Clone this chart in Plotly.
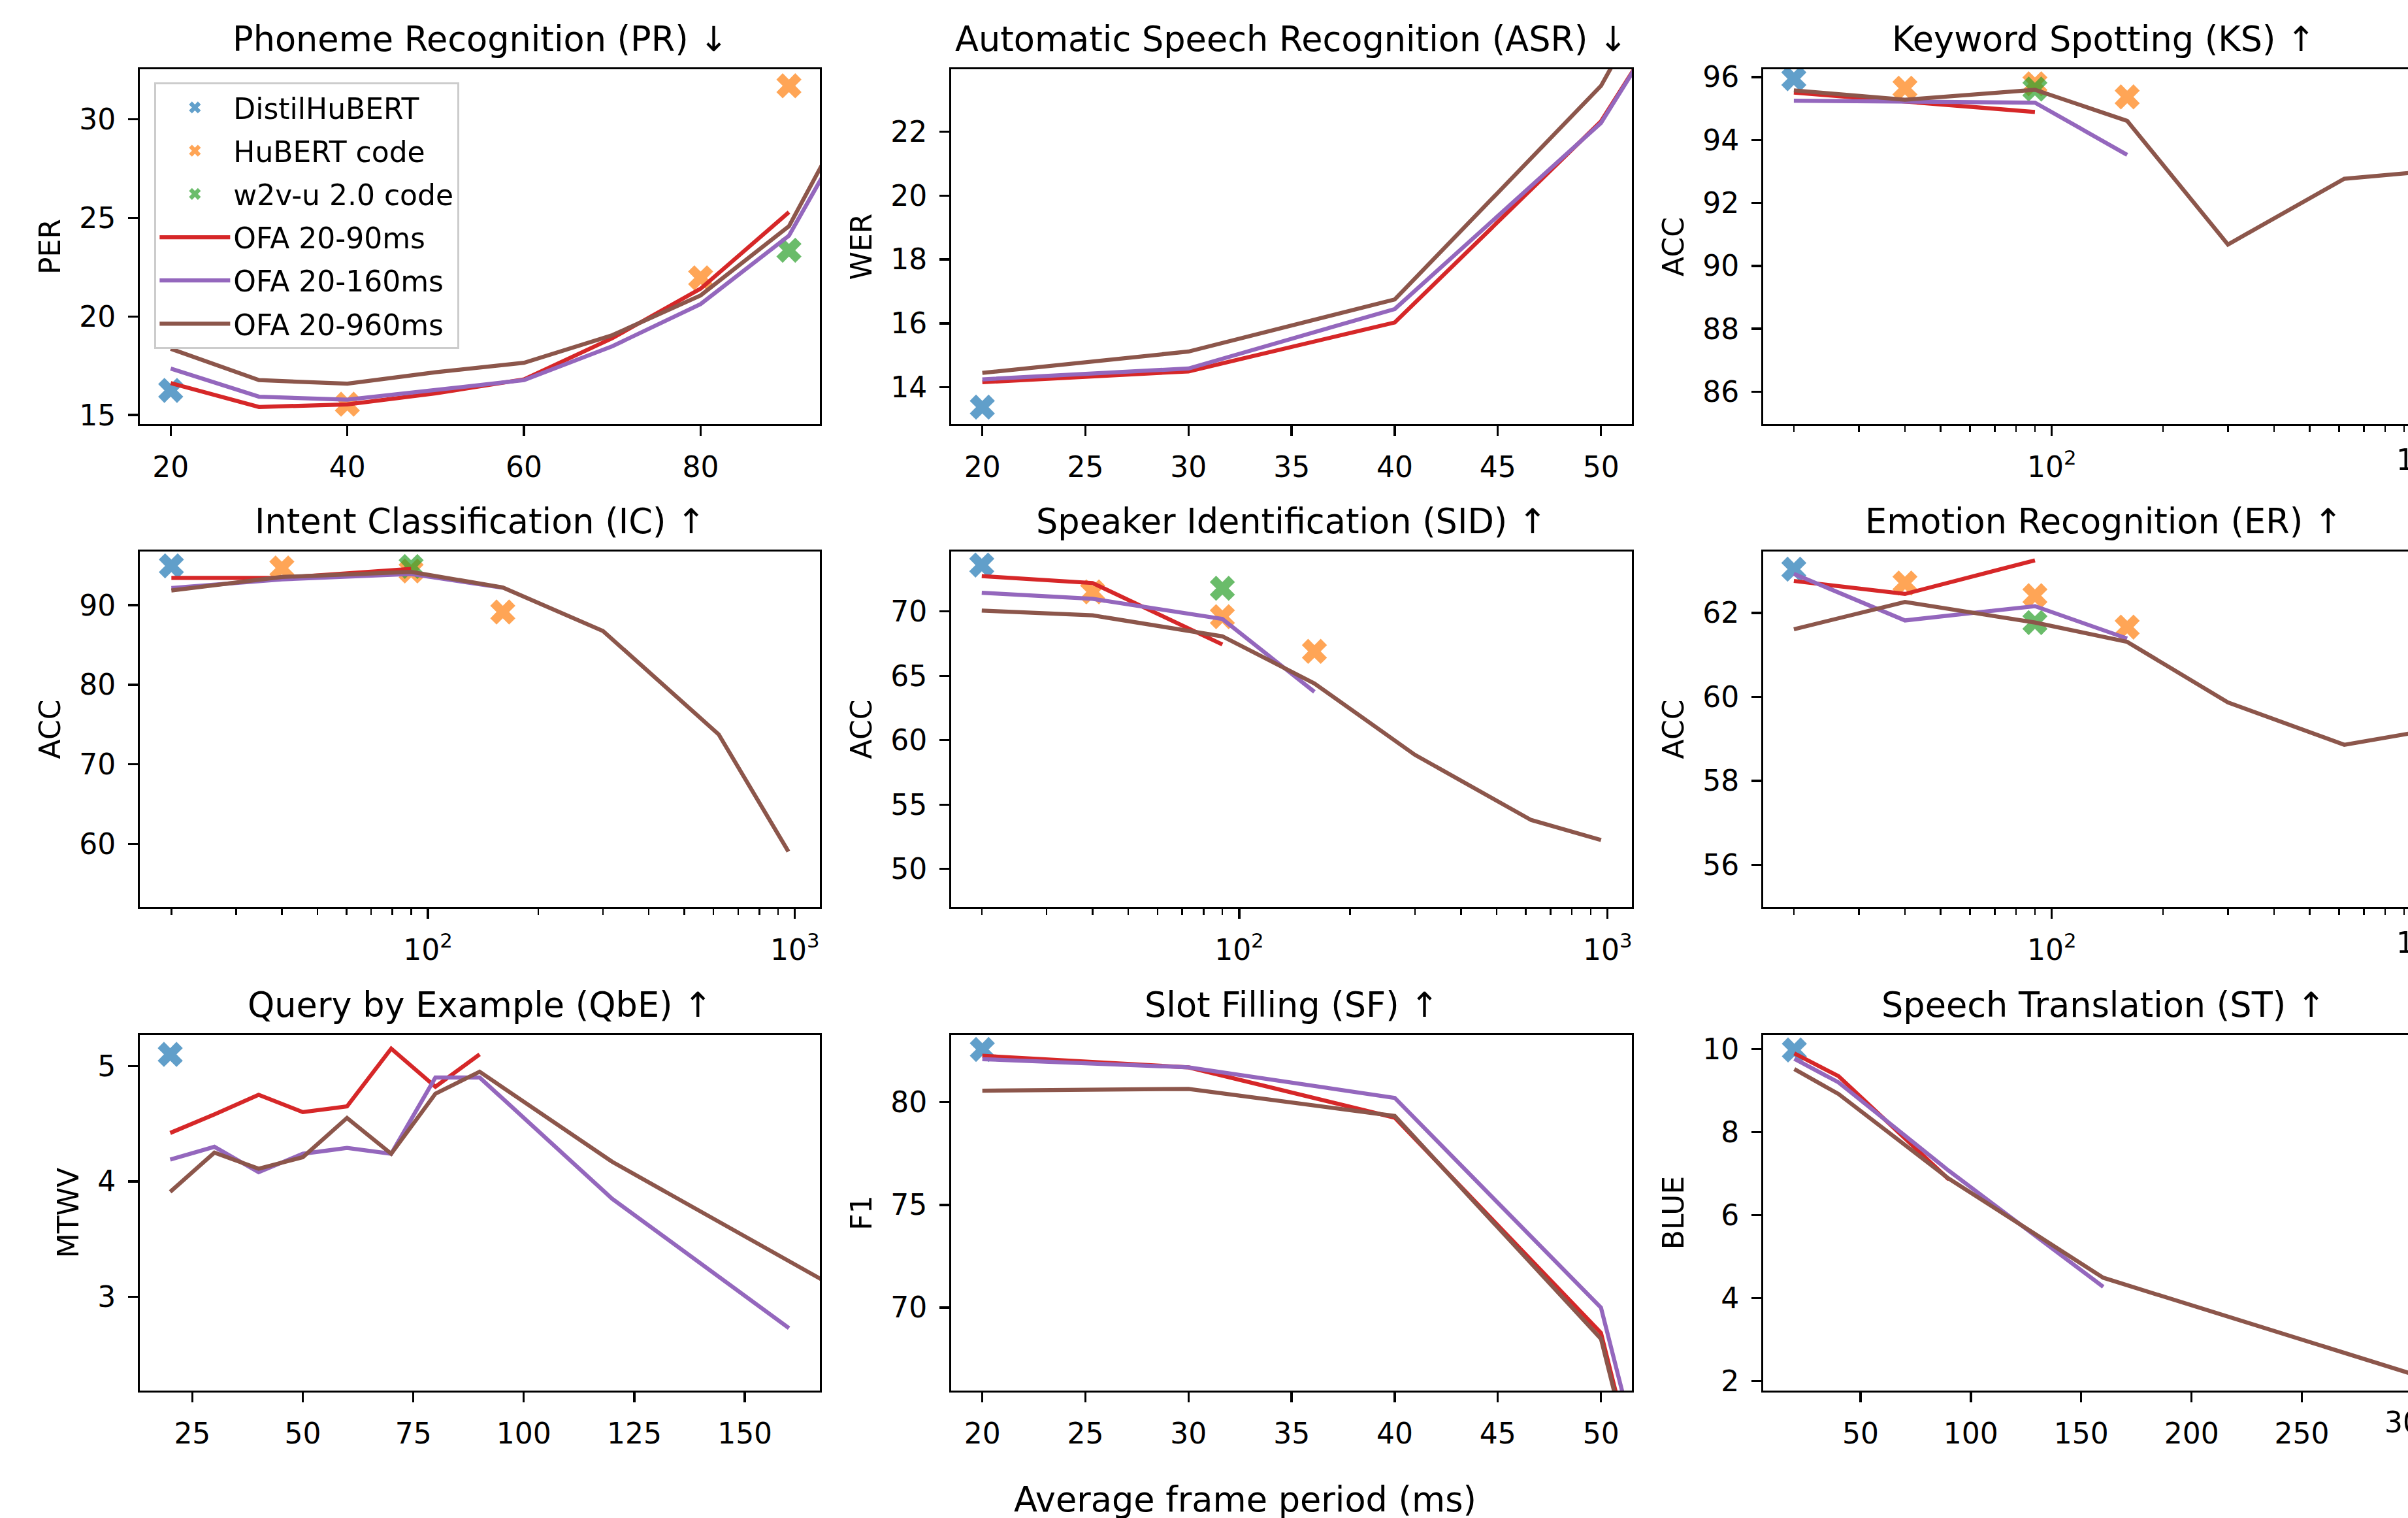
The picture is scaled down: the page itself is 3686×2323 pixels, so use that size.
import math
import plotly.graph_objects as go

# ------------------------------------------------------------------ data
SERIES = ["DistilHuBERT", "HuBERT code", "w2v-u 2.0 code",
          "OFA 20-90ms", "OFA 20-160ms", "OFA 20-960ms"]

# Phoneme Recognition (PR)  - PER
PR_X90 = [20, 30, 40, 50, 60, 70, 80, 90]
PR_OFA90 = [16.62, 15.41, 15.54, 16.10, 16.81, 18.90, 21.41, 25.29]
PR_X160 = [20, 30, 40, 50, 60, 70, 80, 90, 100]
PR_OFA160 = [17.36, 15.93, 15.78, 16.25, 16.77, 18.49, 20.63, 24.10, 32.0]
PR_X960 = [20, 30, 40, 50, 60, 70, 80, 90, 100]
PR_OFA960 = [18.36, 16.77, 16.59, 17.17, 17.65, 19.05, 21.07, 24.58, 32.9]
PR_DISTIL_X, PR_DISTIL = [20], [16.25]
PR_HUBERT_X, PR_HUBERT = [40, 80, 90], [15.55, 21.96, 31.70]
PR_W2V_X, PR_W2V = [90], [23.36]

# Automatic Speech Recognition (ASR) - WER
ASR_X = [20, 30, 40, 50, 60]
ASR_OFA90 = [14.16, 14.50, 16.03, 22.32, 32.5]
ASR_OFA160 = [14.25, 14.59, 16.45, 22.27, 32.6]
ASR_OFA960 = [14.45, 15.12, 16.75, 23.43, 35.0]
ASR_DISTIL_X, ASR_DISTIL = [20], [13.38]

# shared frame periods for the log-scale tasks
LOG_X90 = [20, 40, 90]
LOG_X160 = [20, 40, 90, 160]
LOG_X960 = [20, 40, 90, 160, 300, 620, 960]
LOG_HUBERT_X = [40, 90, 160]

# Keyword Spotting (KS) - ACC
KS_OFA90 = [95.51, 95.22, 94.89]
KS_OFA160 = [95.25, 95.21, 95.19, 93.53]
KS_OFA960 = [95.58, 95.28, 95.60, 94.61, 90.68, 92.77, 92.97]
KS_DISTIL = [95.95]
KS_HUBERT = [95.65, 95.79, 95.37]
KS_W2V = [95.62]

# Intent Classification (IC) - ACC
IC_OFA90 = [93.43, 93.43, 94.57]
IC_OFA160 = [92.15, 93.25, 93.93, 92.20]
IC_OFA960 = [91.85, 93.55, 94.19, 92.23, 86.76, 73.75, 59.02]
IC_DISTIL = [94.95]
IC_HUBERT = [94.68, 94.30, 89.14]
IC_W2V = [94.87]

# Speaker Identification (SID) - ACC
SID_OFA90 = [72.75, 72.21, 67.44]
SID_OFA160 = [71.45, 70.98, 69.42, 63.76]
SID_OFA960 = [70.07, 69.70, 68.07, 64.41, 58.86, 53.80, 52.24]
SID_DISTIL = [73.61]
SID_HUBERT = [71.52, 69.60, 66.90]
SID_W2V = [71.80]

# Emotion Recognition (ER) - ACC
ER_OFA90 = [62.76, 62.45, 63.25]
ER_OFA160 = [62.93, 61.82, 62.16, 61.39]
ER_OFA960 = [61.61, 62.26, 61.77, 61.31, 59.87, 58.86, 59.15]
ER_DISTIL = [63.04]
ER_HUBERT = [62.71, 62.41, 61.66]
ER_W2V = [61.77]

# Query by Example (QbE) - MTWV
QBE_X90 = [20, 30, 40, 50, 60, 70, 80, 90]
QBE_OFA90 = [4.42, 4.58, 4.75, 4.60, 4.65, 5.15, 4.82, 5.10]
QBE_X160 = [20, 30, 40, 50, 60, 70, 80, 90, 120, 160]
QBE_OFA160 = [4.19, 4.30, 4.08, 4.24, 4.29, 4.24, 4.90, 4.90, 3.85, 2.73]
QBE_X960 = [20, 30, 40, 50, 60, 70, 80, 90, 120, 160, 300]
QBE_OFA960 = [3.91, 4.25, 4.11, 4.21, 4.55, 4.24, 4.76, 4.95, 4.17, 3.29, 0.30]
QBE_DISTIL_X, QBE_DISTIL = [20], [5.10]

# Slot Filling (SF) - F1
SF_X = [20, 30, 40, 50, 60]
SF_OFA90 = [82.26, 81.70, 79.25, 68.77, 28.6]
SF_OFA160 = [82.10, 81.70, 80.21, 70.00, 30.4]
SF_OFA960 = [80.56, 80.65, 79.33, 68.48, 28.5]
SF_DISTIL_X, SF_DISTIL = [20], [82.57]

# Speech Translation (ST) - BLUE
ST_X90 = [20, 40, 90]
ST_OFA90 = [9.90, 9.35, 6.86]
ST_X160 = [20, 40, 90, 160]
ST_OFA160 = [9.77, 9.20, 7.07, 4.27]
ST_X960 = [20, 40, 90, 160, 300]
ST_OFA960 = [9.52, 8.92, 6.88, 4.49, 2.17]
ST_DISTIL_X, ST_DISTIL = [20], [9.98]

# tick labels
LOG_TICKS = [100, 1000]
LOG_TICKTEXT = ["10<sup>2</sup>", "10<sup>3</sup>"]
LOG_MINOR = [20, 30, 40, 50, 60, 70, 80, 90, 200, 300, 400, 500, 600, 700, 800, 900]

# ------------------------------------------------------------------ style
W, H = 3686, 2323
FONT = "DejaVu Sans"
PX = 300 / 72
TITLE_SIZE = 52.5
TICK_SIZE = 44
LW = 1.5 * PX
SPINE = 0.8 * PX
TICKLEN = 3.5 * PX
STANDOFF = 10
COLORS = ["#1f77b4", "#ff7f0e", "#2ca02c", "#d62728", "#9467bd", "#8c564b"]

COLS = [(214, 1255), (1456, 2498), (2699, 3686)]
ROWS = [(106, 649), (844, 1388), (1584, 2128)]

PANELS = [
    dict(title="Phoneme Recognition (PR) ↓", ylabel="PER", log=False,
         xr=[16.5, 93.5], yr=[14.54, 32.54], xt=[20, 40, 60, 80], yt=[15, 20, 25, 30],
         lines=[(PR_X90, PR_OFA90), (PR_X160, PR_OFA160), (PR_X960, PR_OFA960)],
         marks=[(PR_DISTIL_X, PR_DISTIL), (PR_HUBERT_X, PR_HUBERT), (PR_W2V_X, PR_W2V)]),
    dict(title="Automatic Speech Recognition (ASR) ↓", ylabel="WER", log=False,
         xr=[18.49, 51.5], yr=[12.85, 23.95], xt=[20, 25, 30, 35, 40, 45, 50],
         yt=[14, 16, 18, 20, 22],
         lines=[(ASR_X, ASR_OFA90), (ASR_X, ASR_OFA160), (ASR_X, ASR_OFA960)],
         marks=[(ASR_DISTIL_X, ASR_DISTIL), None, None]),
    dict(title="Keyword Spotting (KS) ↑", ylabel="ACC", log=True, cut=(1000, "10<sup>3</sup>"),
         xr=[1.218, 2.965], yr=[84.97, 96.25], yt=[86, 88, 90, 92, 94, 96],
         lines=[(LOG_X90, KS_OFA90), (LOG_X160, KS_OFA160), (LOG_X960, KS_OFA960)],
         marks=[([20], KS_DISTIL), (LOG_HUBERT_X, KS_HUBERT), ([90], KS_W2V)]),
    dict(title="Intent Classification (IC) ↑", ylabel="ACC", log=True,
         xr=[1.215, 3.068], yr=[52.05, 96.75], yt=[60, 70, 80, 90],
         lines=[(LOG_X90, IC_OFA90), (LOG_X160, IC_OFA160), (LOG_X960, IC_OFA960)],
         marks=[([20], IC_DISTIL), (LOG_HUBERT_X, IC_HUBERT), ([90], IC_W2V)]),
    dict(title="Speaker Identification (SID) ↑", ylabel="ACC", log=True,
         xr=[1.218, 3.066], yr=[47.04, 74.66], yt=[50, 55, 60, 65, 70],
         lines=[(LOG_X90, SID_OFA90), (LOG_X160, SID_OFA160), (LOG_X960, SID_OFA960)],
         marks=[([20], SID_DISTIL), (LOG_HUBERT_X, SID_HUBERT), ([90], SID_W2V)]),
    dict(title="Emotion Recognition (ER) ↑", ylabel="ACC", log=True, cut=(1000, "10<sup>3</sup>"),
         xr=[1.218, 2.965], yr=[55.0, 63.46], yt=[56, 58, 60, 62],
         lines=[(LOG_X90, ER_OFA90), (LOG_X160, ER_OFA160), (LOG_X960, ER_OFA960)],
         marks=[([20], ER_DISTIL), (LOG_HUBERT_X, ER_HUBERT), ([90], ER_W2V)]),
    dict(title="Query by Example (QbE) ↑", ylabel="MTWV", log=False,
         xr=[13.12, 166.98], yr=[2.19, 5.267], xt=[25, 50, 75, 100, 125, 150], yt=[3, 4, 5],
         lines=[(QBE_X90, QBE_OFA90), (QBE_X160, QBE_OFA160), (QBE_X960, QBE_OFA960)],
         marks=[(QBE_DISTIL_X, QBE_DISTIL), None, None]),
    dict(title="Slot Filling (SF) ↑", ylabel="F1", log=False,
         xr=[18.49, 51.5], yr=[65.96, 83.27], xt=[20, 25, 30, 35, 40, 45, 50], yt=[70, 75, 80],
         lines=[(SF_X, SF_OFA90), (SF_X, SF_OFA160), (SF_X, SF_OFA960)],
         marks=[(SF_DISTIL_X, SF_DISTIL), None, None]),
    dict(title="Speech Translation (ST) ↑", ylabel="BLUE", log=False, cut=(300, "300"),
         xr=[5.9, 298.1], yr=[1.77, 10.34], xt=[50, 100, 150, 200, 250], yt=[2, 4, 6, 8, 10],
         lines=[(ST_X90, ST_OFA90), (ST_X160, ST_OFA160), (ST_X960, ST_OFA960)],
         marks=[(ST_DISTIL_X, ST_DISTIL), None, None]),
]

fig = go.Figure()
annotations = []
layout = dict(
    template="none",
    width=W, height=H,
    margin=dict(l=0, r=0, t=0, b=0, pad=0, autoexpand=False),
    paper_bgcolor="white", plot_bgcolor="white",
    font=dict(family=FONT, size=TICK_SIZE, color="black"),
    showlegend=True,
    hovermode=False,
    legend=dict(x=236 / W, y=1 - 126 / H, xanchor="left", yanchor="top",
                bgcolor="rgba(255,255,255,0.8)", bordercolor="#cccccc",
                borderwidth=SPINE, font=dict(family=FONT, size=TICK_SIZE, color="black"),
                traceorder="grouped", tracegroupgap=6, itemwidth=108,
                itemsizing="trace"),
)


def paper_x(val, p, xdom):
    v = math.log10(val) if p["log"] else val
    frac = (v - p["xr"][0]) / (p["xr"][1] - p["xr"][0])
    return xdom[0] + frac * (xdom[1] - xdom[0])


for i, p in enumerate(PANELS):
    r, c = divmod(i, 3)
    n = "" if i == 0 else str(i + 1)
    xa, ya = "x" + n, "y" + n
    x0, x1 = COLS[c]
    y0, y1 = ROWS[r]
    xdom = [x0 / W, x1 / W]
    ydom = [1 - y1 / H, 1 - y0 / H]
    last_col = (c == 2)

    # markers first (drawn below the lines)
    for k, m in enumerate(p["marks"]):
        if m is None:
            continue
        fig.add_trace(go.Scatter(
            x=m[0], y=m[1], mode="markers", name=SERIES[k], legendgroup=SERIES[k],
            showlegend=(i == 0), xaxis=xa, yaxis=ya, opacity=0.7,
            marker=dict(symbol="x", size=34, color=COLORS[k], line=dict(width=0))))
    for k, ln in enumerate(p["lines"]):
        fig.add_trace(go.Scatter(
            x=ln[0], y=ln[1], mode="lines", name=SERIES[k + 3],
            legendgroup=SERIES[k + 3], showlegend=(i == 0), xaxis=xa, yaxis=ya,
            line=dict(color=COLORS[k + 3], width=LW)))

    xax = dict(domain=xdom, anchor=ya, range=p["xr"], showgrid=False, zeroline=False,
               automargin=False, fixedrange=True,
               showline=True, linecolor="black", linewidth=SPINE, mirror=True,
               ticks="outside", ticklen=TICKLEN, tickwidth=SPINE, tickcolor="black",
               ticklabelstandoff=STANDOFF,
               tickfont=dict(family=FONT, size=TICK_SIZE, color="black"))
    if p["log"]:
        xax.update(type="log", tickmode="array", tickvals=LOG_TICKS, ticktext=LOG_TICKTEXT,
                   minor=dict(tickmode="array", tickvals=LOG_MINOR, ticks="outside",
                              ticklen=2 * PX, tickwidth=0.6 * PX, tickcolor="black"))
    else:
        xax.update(tickmode="array", tickvals=p["xt"])
    yax = dict(domain=ydom, anchor=xa, range=p["yr"], showgrid=False, zeroline=False,
               automargin=False, fixedrange=True,
               showline=True, linecolor="black", linewidth=SPINE, mirror=not last_col,
               ticks="outside", ticklen=TICKLEN, tickwidth=SPINE, tickcolor="black",
               ticklabelstandoff=STANDOFF, tickmode="array", tickvals=p["yt"],
               tickfont=dict(family=FONT, size=TICK_SIZE, color="black"),
               title=dict(text=p["ylabel"], standoff=16,
                          font=dict(family=FONT, size=TICK_SIZE, color="black")))
    layout["xaxis" + n] = xax
    layout["yaxis" + n] = yax

    annotations.append(dict(text=p["title"], xref="paper", yref="paper",
                            x=(x0 + (x1 if not last_col else x0 + 1042)) / 2 / W,
                            y=ydom[1], xanchor="center", yanchor="bottom", yshift=14,
                            showarrow=False,
                            font=dict(family=FONT, size=TITLE_SIZE, color="black")))
    # tick label cut by the right border of the picture
    if "cut" in p:
        val, txt = p["cut"]
        annotations.append(dict(text=txt, xref="paper", yref="paper",
                                x=paper_x(val, p, xdom), y=ydom[0],
                                xanchor="center", yanchor="top",
                                yshift=-(TICKLEN + STANDOFF - 4), showarrow=False,
                                font=dict(family=FONT, size=TICK_SIZE, color="black")))

annotations.append(dict(text="Average frame period (ms)", xref="paper", yref="paper",
                        x=1906 / W, y=1 - 2294 / H, xanchor="center", yanchor="middle",
                        showarrow=False,
                        font=dict(family=FONT, size=TITLE_SIZE, color="black")))
layout["annotations"] = annotations
fig.update_layout(**layout)
fig.write_html("out.html",
               config={"displayModeBar": False, "staticPlot": True},
               post_script="document.body.style.margin='0px';"
                           "document.body.style.overflow='hidden';")
